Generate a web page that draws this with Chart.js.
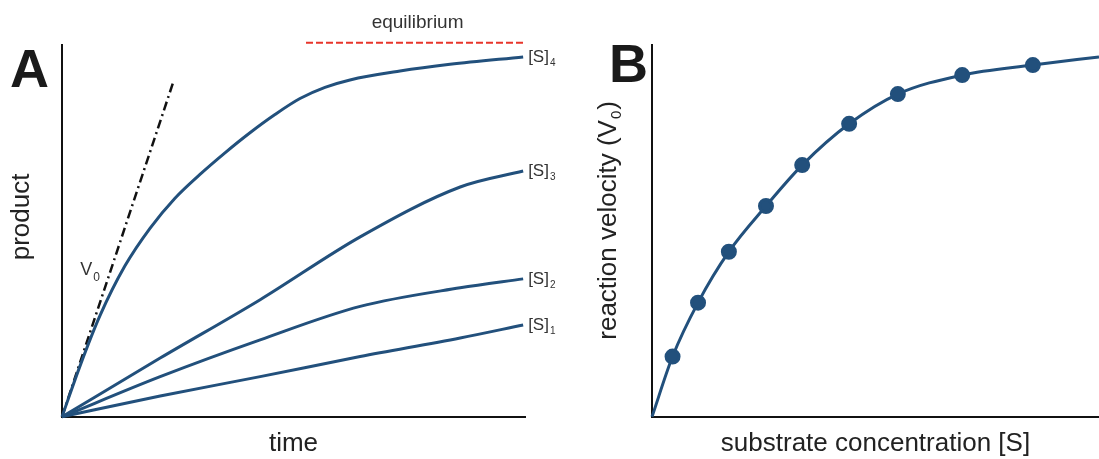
<!DOCTYPE html>
<html lang="en">
<head>
<meta charset="UTF-8">
<title>Enzyme kinetics - progress curves and saturation curve</title>
<script src="https://cdn.jsdelivr.net/npm/chart.js"></script>
<style>
  body { margin: 0; background: #fff; }
  #wrap { position: relative; width: 1099px; height: 459px; }
  #chartA { position: absolute; left: 0; top: 0; }
  #chartB { position: absolute; left: 560px; top: 0; }
</style>
</head>
<body>
<div id="wrap">
  <canvas id="chartA" width="560" height="459"></canvas>
  <canvas id="chartB" width="539" height="459"></canvas>
</div>
<script>
// Panel A: product formed over time, four substrate concentrations (arbitrary units 0-100)
var s4Time = [0, 3.9, 8.2, 13.6, 19.0, 24.4, 29.8, 35.2, 40.6, 46.0, 51.4, 56.8, 62.2, 73.0, 83.8, 99.6];
var s4Product = [0, 13.7, 27.2, 40.6, 50.7, 58.8, 65.2, 71.0, 76.4, 81.3, 85.6, 88.6, 90.6, 93.0, 94.8, 96.8];
var sTime = [0, 21.2, 42.8, 64.4, 86, 99.6];
var s3Product = [0, 15.8, 31.5, 48.4, 61.8, 66.1];
var s2Product = [0, 10.8, 20.7, 29.7, 34.7, 37.1];
var s1Product = [0, 5.6, 10.8, 16.2, 21.2, 24.7];
var curveNames = ['4', '3', '2', '1'];

// initial rate tangent and equilibrium level
var v0Time = [0, 24.0];
var v0Product = [0, 89.9];
var eqTime = [52.7, 99.6];
var eqProduct = [100.6, 100.6];

// Panel B: reaction velocity vs substrate concentration
var substrate = [0, 4.6, 10.3, 17.2, 25.5, 33.6, 44.1, 55.0, 69.4, 85.2, 100];
var velocity = [0, 16.2, 30.7, 44.4, 56.7, 67.7, 78.8, 86.8, 91.9, 94.6, 96.8];

var blue = '#22507c';
var fontFam = '"Liberation Sans", Arial, sans-serif';
var titleSize = 26;

function xy(xs, ys) {
    return xs.map(function (x, i) { return { x: x, y: ys[i] }; });
}

function curve(xs, ys) {
    return {
        data: xy(xs, ys),
        borderColor: blue,
        borderWidth: 3,
        pointRadius: 0,
        cubicInterpolationMode: 'monotone',
        clip: false
    };
}

// text with a subscript after it
function drawSub(ctx, main, sub, x, y, size, subSize, drop, after) {
    ctx.font = size + 'px ' + fontFam;
    ctx.fillText(main, x, y);
    var w = ctx.measureText(main).width;
    ctx.font = subSize + 'px ' + fontFam;
    ctx.fillText(sub, x + w + 1, y + drop);
    var w2 = ctx.measureText(sub).width;
    if (after) {
        ctx.font = size + 'px ' + fontFam;
        ctx.fillText(after, x + w + w2 + 2, y);
    }
}

function axisBase() {
    return {
        type: 'linear',
        min: 0,
        max: 100,
        grid: { display: false, drawTicks: false, tickLength: 0 },
        ticks: { display: false },
        border: { display: true, color: '#111', width: 2 }
    };
}

function xAxis(text) {
    var a = axisBase();
    a.title = {
        display: true,
        text: text,
        color: '#222',
        font: { family: fontFam, size: titleSize },
        padding: { top: 11, bottom: 0 }
    };
    return a;
}

var commonOpts = {
    responsive: false,
    animation: false,
    events: [],
    plugins: { legend: { display: false }, tooltip: { enabled: false } }
};

var panelALabels = {
    id: 'panelALabels',
    afterDatasetsDraw: function (chart) {
        var ctx = chart.ctx, area = chart.chartArea;
        ctx.save();
        ctx.textAlign = 'left';
        ctx.textBaseline = 'alphabetic';
        ctx.fillStyle = '#333';

        // [S]n at the end of each curve
        curveNames.forEach(function (n, i) {
            var pts = chart.getDatasetMeta(i).data;
            var end = pts[pts.length - 1];
            drawSub(ctx, '[S]', n, end.x + 5, end.y + 5, 17, 10, 4);
        });

        // equilibrium caption above the red dashed line
        var eq = chart.getDatasetMeta(5).data;
        ctx.textAlign = 'center';
        ctx.font = '19px ' + fontFam;
        ctx.fillText('equilibrium', (eq[0].x + eq[1].x) / 2 + 3, eq[0].y - 15);

        // V0 next to the tangent
        var v = chart.getDatasetMeta(4).data;
        var t = 0.425;
        var vx = v[0].x + (v[1].x - v[0].x) * t;
        var vy = v[0].y + (v[1].y - v[0].y) * t;
        ctx.textAlign = 'left';
        drawSub(ctx, 'V', '0', vx - 29, vy, 18, 12, 6);

        // y title
        ctx.save();
        ctx.translate(area.left - 40, (area.top + area.bottom) / 2 - 14);
        ctx.rotate(-Math.PI / 2);
        ctx.textAlign = 'center';
        ctx.textBaseline = 'middle';
        ctx.fillStyle = '#222';
        ctx.font = titleSize + 'px ' + fontFam;
        ctx.fillText('product', 0, 0);
        ctx.restore();

        // panel letter
        ctx.fillStyle = '#1a1a1a';
        ctx.font = 'bold 54px ' + fontFam;
        ctx.fillText('A', area.left - 52, area.top + 42);
        ctx.restore();
    }
};

var panelBLabels = {
    id: 'panelBLabels',
    afterDatasetsDraw: function (chart) {
        var ctx = chart.ctx, area = chart.chartArea;
        ctx.save();
        ctx.textBaseline = 'alphabetic';

        // y title with subscript, rotated
        ctx.fillStyle = '#222';
        ctx.font = titleSize + 'px ' + fontFam;
        var w1 = ctx.measureText('reaction velocity (V').width;
        var w3 = ctx.measureText(')').width;
        ctx.font = '15px ' + fontFam;
        var w2 = ctx.measureText('0').width;
        var total = w1 + w2 + w3 + 3;
        ctx.translate(area.left - 45 + 9, (area.top + area.bottom) / 2 - 11);
        ctx.rotate(-Math.PI / 2);
        ctx.textAlign = 'left';
        drawSub(ctx, 'reaction velocity (V', '0', -total / 2, 0, titleSize, 15, 5, ')');
        ctx.restore();

        ctx.save();
        ctx.fillStyle = '#1a1a1a';
        ctx.font = 'bold 54px ' + fontFam;
        ctx.fillText('B', area.left - 43, area.top + 37);
        ctx.restore();
    }
};

new Chart(document.getElementById('chartA'), {
    type: 'line',
    data: {
        datasets: [
            curve(s4Time, s4Product),
            curve(sTime, s3Product),
            curve(sTime, s2Product),
            curve(sTime, s1Product),
            {
                data: xy(v0Time, v0Product),
                borderColor: '#111',
                borderWidth: 2.5,
                borderDash: [9, 4, 2, 4],
                pointRadius: 0,
                clip: false
            },
            {
                data: xy(eqTime, eqProduct),
                borderColor: '#e8352b',
                borderWidth: 2,
                borderDash: [7, 3],
                pointRadius: 0,
                clip: false
            }
        ]
    },
    options: Object.assign({}, commonOpts, {
        layout: { autoPadding: false, padding: { left: 62, right: 35, top: 45, bottom: 0 } },
        scales: { x: xAxis('time'), y: axisBase() }
    }),
    plugins: [panelALabels]
});

var dotRadius = velocity.map(function (v, i) {
    return (i === 0 || i === velocity.length - 1) ? 0 : 6.5;
});

new Chart(document.getElementById('chartB'), {
    type: 'line',
    data: {
        datasets: [{
            data: xy(substrate, velocity),
            borderColor: blue,
            borderWidth: 3,
            backgroundColor: blue,
            pointBackgroundColor: blue,
            pointBorderColor: blue,
            pointRadius: dotRadius,
            cubicInterpolationMode: 'monotone',
            clip: false
        }]
    },
    options: Object.assign({}, commonOpts, {
        layout: { autoPadding: false, padding: { left: 92, right: 0, top: 45, bottom: 0 } },
        scales: { x: xAxis('substrate concentration [S]'), y: axisBase() }
    }),
    plugins: [panelBLabels]
});
</script>
</body>
</html>
